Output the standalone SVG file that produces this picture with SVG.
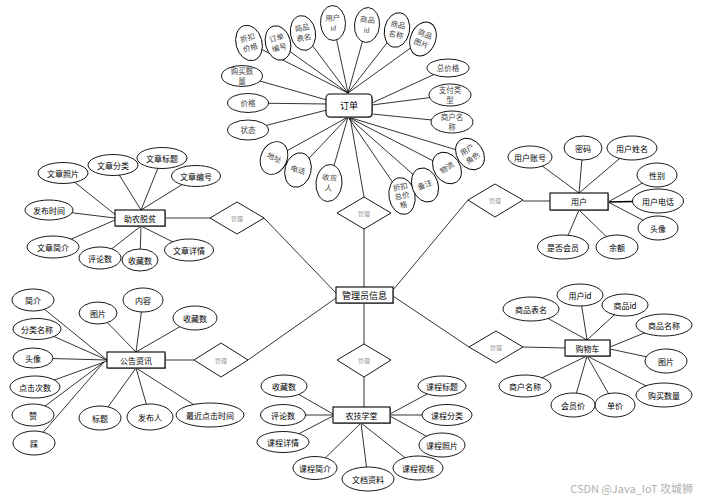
<svg xmlns="http://www.w3.org/2000/svg" width="705" height="501" viewBox="0 0 705 501">
<style>
.e{fill:#fff;stroke:#000;stroke-width:0.9}
.b{fill:#fff;stroke:#000;stroke-width:1.1}
.s{fill:#9a9a9a}
.d{fill:#fff;stroke:#000;stroke-width:0.9}
.c line{stroke:#000;stroke-width:0.8}
text{font-family:"Noto Sans CJK SC","Noto Sans",sans-serif;text-anchor:middle;dominant-baseline:central}
.t{font-size:8px;fill:#000}
.g{font-family:"Liberation Serif","Noto Sans CJK SC",serif;font-size:7.5px;fill:#444}
.bt{font-size:9px;fill:#000}
.dl{font-size:6px;fill:#999}
.w{font-size:11px;fill:#b0b0b0;text-anchor:end}
</style>
<rect width="705" height="501" fill="#fff"/>
<g id="connectors" class="c">
<!-- 订单 top -->
<line x1="348" y1="93" x2="249" y2="43"/>
<line x1="348" y1="93" x2="278" y2="43"/>
<line x1="348" y1="93" x2="303" y2="33"/>
<line x1="348" y1="93" x2="333" y2="23"/>
<line x1="348" y1="93" x2="367" y2="25"/>
<line x1="348" y1="93" x2="397" y2="30"/>
<line x1="348" y1="93" x2="423" y2="39"/>
<line x1="327" y1="100" x2="242" y2="76"/>
<line x1="327" y1="104" x2="248" y2="103"/>
<line x1="327" y1="110" x2="248" y2="130"/>
<line x1="372" y1="103" x2="448" y2="68"/>
<line x1="372" y1="105" x2="450" y2="95"/>
<line x1="372" y1="114" x2="452" y2="122"/>
<line x1="348" y1="117" x2="274" y2="158"/>
<line x1="348" y1="117" x2="298" y2="170"/>
<line x1="348" y1="117" x2="329" y2="183"/>
<line x1="348" y1="117" x2="402" y2="196"/>
<line x1="348" y1="117" x2="425" y2="185"/>
<line x1="348" y1="117" x2="447" y2="168"/>
<line x1="348" y1="117" x2="470" y2="154"/>
<line x1="350" y1="117" x2="364" y2="197"/>
<!-- 助农脱贫 -->
<line x1="117" y1="216" x2="63" y2="173"/>
<line x1="141" y1="210" x2="113" y2="165"/>
<line x1="141" y1="210" x2="162" y2="158"/>
<line x1="141" y1="210" x2="196" y2="176"/>
<line x1="115" y1="218" x2="49" y2="210"/>
<line x1="115" y1="220" x2="53" y2="247"/>
<line x1="141" y1="226" x2="100" y2="258"/>
<line x1="141" y1="226" x2="140" y2="260"/>
<line x1="141" y1="226" x2="189" y2="250"/>
<line x1="166" y1="218" x2="210" y2="218"/>
<line x1="264" y1="218" x2="336" y2="293"/>
<!-- 用户 -->
<line x1="579" y1="193" x2="530" y2="157"/>
<line x1="579" y1="193" x2="583" y2="148"/>
<line x1="579" y1="193" x2="632" y2="148"/>
<line x1="608" y1="202" x2="657" y2="175"/>
<line x1="608" y1="202" x2="658" y2="201" style="stroke-width:1.6"/>
<line x1="608" y1="202" x2="658" y2="228"/>
<line x1="579" y1="210" x2="617" y2="247"/>
<line x1="579" y1="210" x2="563" y2="247"/>
<line x1="523" y1="201" x2="550" y2="201"/>
<line x1="468" y1="200" x2="393" y2="290"/>
<!-- 公告资讯 -->
<line x1="107" y1="360" x2="33" y2="300"/>
<line x1="107" y1="360" x2="37" y2="329"/>
<line x1="107" y1="360" x2="33" y2="358"/>
<line x1="107" y1="361" x2="35" y2="387"/>
<line x1="104" y1="362" x2="33" y2="415"/>
<line x1="104" y1="362" x2="34" y2="443"/>
<line x1="136" y1="352" x2="98" y2="313"/>
<line x1="136" y1="352" x2="143" y2="300"/>
<line x1="136" y1="352" x2="195" y2="318"/>
<line x1="136" y1="368" x2="100" y2="418"/>
<line x1="136" y1="368" x2="150" y2="417"/>
<line x1="136" y1="368" x2="210" y2="415"/>
<line x1="165" y1="360" x2="194" y2="360"/>
<line x1="248" y1="360" x2="336" y2="298"/>
<!-- 管理员信息 vertical -->
<line x1="364" y1="229" x2="364" y2="287"/>
<line x1="364" y1="303" x2="364" y2="344"/>
<line x1="364" y1="377" x2="364" y2="407"/>
<!-- 农技学堂 -->
<line x1="333" y1="414" x2="284" y2="386"/>
<line x1="333" y1="415" x2="283" y2="415"/>
<line x1="333" y1="416" x2="283" y2="442"/>
<line x1="390" y1="414" x2="442" y2="386"/>
<line x1="390" y1="415" x2="447" y2="415"/>
<line x1="390" y1="416" x2="442" y2="445"/>
<line x1="361" y1="423" x2="315" y2="468"/>
<line x1="361" y1="423" x2="368" y2="479"/>
<line x1="361" y1="423" x2="418" y2="468"/>
<!-- 购物车 -->
<line x1="587" y1="340" x2="531" y2="309"/>
<line x1="587" y1="340" x2="580" y2="295"/>
<line x1="587" y1="340" x2="625" y2="305"/>
<line x1="610" y1="347" x2="664" y2="325"/>
<line x1="610" y1="349" x2="666" y2="361"/>
<line x1="587" y1="356" x2="664" y2="395"/>
<line x1="587" y1="356" x2="615" y2="405"/>
<line x1="587" y1="356" x2="573" y2="405"/>
<line x1="587" y1="356" x2="525" y2="386"/>
<line x1="523" y1="347" x2="565" y2="348"/>
<line x1="469" y1="347" x2="393" y2="296"/>
</g>
<!-- central node -->
<g id="admin"><rect class="s" x="337" y="288" width="57" height="16"/><rect class="b" x="336" y="287" width="57" height="16"/><text class="bt" x="364.5" y="295.5">管理员信息</text></g>
<!-- diamonds -->
<g id="rel-zhunong"><polygon class="d" points="210,218 237,202 264,218 237,234"/><text class="dl" x="237" y="218">管理</text></g>
<g id="rel-gonggao"><polygon class="d" points="194,360 221,343 248,360 221,377"/><text class="dl" x="221" y="360">管理</text></g>
<g id="rel-dingdan"><polygon class="d" points="337,213 364,197 391,213 364,229"/><text class="dl" x="364" y="213">管理</text></g>
<g id="rel-nongji"><polygon class="d" points="337,360 364,344 391,360 364,377"/><text class="dl" x="364" y="360">管理</text></g>
<g id="rel-yonghu"><polygon class="d" points="468,200 495,184 523,200 495,217"/><text class="dl" x="495" y="200">管理</text></g>
<g id="rel-gouwuche"><polygon class="d" points="469,347 496,331 523,347 496,363"/><text class="dl" x="496" y="347">管理</text></g>
<!-- 订单 -->
<g id="dingdan"><rect class="s" x="327" y="95" width="46" height="23" rx="4"/><rect class="b" x="326" y="94" width="46" height="23" rx="4"/><text class="bt" x="349" y="105.5">订单</text></g>
<g id="dd-zhekoujiage" transform="translate(249,43) rotate(-15)"><ellipse class="e" rx="13" ry="18"/><text class="g" y="-5">折扣</text><text class="g" y="5">价格</text></g>
<g id="dd-dingdanbianhao" transform="translate(278,43) rotate(-15)"><ellipse class="e" rx="12.5" ry="17.5"/><text class="g" y="-5">订单</text><text class="g" y="5">编号</text></g>
<g id="dd-shangpinbiaoming" transform="translate(303,33) rotate(-10)"><ellipse class="e" rx="12.5" ry="17.5"/><text class="g" y="-5">商品</text><text class="g" y="5">表名</text></g>
<g id="dd-yonghuid" transform="translate(333,23) rotate(-3)"><ellipse class="e" rx="12.5" ry="17.5"/><text class="g" y="-5">用户</text><text class="g" y="5">id</text></g>
<g id="dd-shangpinid" transform="translate(367,25) rotate(5)"><ellipse class="e" rx="12.5" ry="17.5"/><text class="g" y="-5">商品</text><text class="g" y="5">id</text></g>
<g id="dd-shangpinmingcheng" transform="translate(397,30) rotate(12)"><ellipse class="e" rx="12.5" ry="17.5"/><text class="g" y="-5">商品</text><text class="g" y="5">名称</text></g>
<g id="dd-shangpintupian" transform="translate(423,39) rotate(22)"><ellipse class="e" rx="12.5" ry="17.5"/><text class="g" y="-5">商品</text><text class="g" y="5">图片</text></g>
<g id="dd-goumaishuliang"><ellipse class="e" cx="242" cy="76" rx="20.5" ry="10.5"/><text class="g" x="242" y="71">购买数</text><text class="g" x="242" y="81">量</text></g>
<g id="dd-jiage"><ellipse class="e" cx="248" cy="103" rx="20.5" ry="9.5"/><text class="g" x="248" y="103">价格</text></g>
<g id="dd-zhuangtai"><ellipse class="e" cx="248" cy="130" rx="20.5" ry="10"/><text class="g" x="248" y="130">状态</text></g>
<g id="dd-zongjiage"><ellipse class="e" cx="448" cy="68" rx="21" ry="9"/><text class="g" x="448" y="68">总价格</text></g>
<g id="dd-zhifuleixing"><ellipse class="e" cx="450" cy="95" rx="21" ry="11"/><text class="g" x="450" y="90">支付类</text><text class="g" x="450" y="100">型</text></g>
<g id="dd-shanghumingcheng"><ellipse class="e" cx="452" cy="122" rx="21" ry="11"/><text class="g" x="452" y="117">商户名</text><text class="g" x="452" y="127">称</text></g>
<g id="dd-dizhi" transform="translate(274,158) rotate(25)"><ellipse class="e" rx="13" ry="17"/><text class="g">地址</text></g>
<g id="dd-dianhua" transform="translate(298,170) rotate(15)"><ellipse class="e" rx="13" ry="17.5"/><text class="g">电话</text></g>
<g id="dd-shouhuoren" transform="translate(329,183) rotate(5)"><ellipse class="e" rx="13" ry="18.5"/><text class="g" y="-5">收货</text><text class="g" y="5">人</text></g>
<g id="dd-zhekouzongjiage" transform="translate(402,196) rotate(-10)"><ellipse class="e" rx="13" ry="18.5"/><text class="g" y="-9">折扣</text><text class="g" y="0">总价</text><text class="g" y="9">格</text></g>
<g id="dd-beizhu" transform="translate(425,185) rotate(-20)"><ellipse class="e" rx="13" ry="17.5"/><text class="g">备注</text></g>
<g id="dd-wuliu" transform="translate(447,168) rotate(-35)"><ellipse class="e" rx="13" ry="17"/><text class="g">物流</text></g>
<g id="dd-yonghujuese" transform="translate(470,154) rotate(-35)"><ellipse class="e" rx="13" ry="17"/><text class="g" y="-5">用户</text><text class="g" y="5">角色</text></g>
<!-- 助农脱贫 -->
<g id="zhunong"><rect class="s" x="116" y="211" width="50" height="16"/><rect class="b" x="115" y="210" width="50" height="16"/><text class="t" x="140" y="218">助农脱贫</text></g>
<g id="zn-zhaopian"><ellipse class="e" cx="63" cy="173" rx="25" ry="10.5"/><text class="t" x="63" y="173">文章照片</text></g>
<g id="zn-fenlei"><ellipse class="e" cx="113" cy="165" rx="25" ry="10.5"/><text class="t" x="113" y="165">文章分类</text></g>
<g id="zn-biaoti"><ellipse class="e" cx="162" cy="158" rx="25" ry="10.5"/><text class="t" x="162" y="158">文章标题</text></g>
<g id="zn-bianhao"><ellipse class="e" cx="196" cy="176" rx="24.5" ry="10.5"/><text class="t" x="196" y="176">文章编号</text></g>
<g id="zn-fabushijian"><ellipse class="e" cx="49" cy="210" rx="24" ry="10"/><text class="t" x="49" y="210">发布时间</text></g>
<g id="zn-jianjie"><ellipse class="e" cx="53" cy="247" rx="26" ry="11"/><text class="t" x="53" y="247">文章简介</text></g>
<g id="zn-pinglunshu"><ellipse class="e" cx="100" cy="258" rx="21" ry="11"/><text class="t" x="100" y="258">评论数</text></g>
<g id="zn-shoucangshu"><ellipse class="e" cx="140" cy="260" rx="18" ry="11"/><text class="t" x="140" y="260">收藏数</text></g>
<g id="zn-xiangqing"><ellipse class="e" cx="189" cy="250" rx="24.5" ry="11"/><text class="t" x="189" y="250">文章详情</text></g>
<!-- 用户 -->
<g id="yonghu"><rect class="s" x="551" y="194" width="58" height="17"/><rect class="b" x="550" y="193" width="58" height="17"/><text class="t" x="579" y="201.5">用户</text></g>
<g id="yh-zhanghao"><ellipse class="e" cx="530" cy="157" rx="22" ry="11"/><text class="t" x="530" y="157">用户账号</text></g>
<g id="yh-mima"><ellipse class="e" cx="583" cy="148" rx="19" ry="12"/><text class="t" x="583" y="148">密码</text></g>
<g id="yh-xingming"><ellipse class="e" cx="632" cy="148" rx="25" ry="12"/><text class="t" x="632" y="148">用户姓名</text></g>
<g id="yh-xingbie"><ellipse class="e" cx="657" cy="175" rx="20" ry="12"/><text class="t" x="657" y="175">性别</text></g>
<g id="yh-dianhua"><ellipse class="e" cx="658" cy="201" rx="25.5" ry="12"/><text class="t" x="658" y="201">用户电话</text></g>
<g id="yh-touxiang"><ellipse class="e" cx="658" cy="228" rx="20" ry="12"/><text class="t" x="658" y="228">头像</text></g>
<g id="yh-yue"><ellipse class="e" cx="617" cy="247" rx="21" ry="12"/><text class="t" x="617" y="247">余额</text></g>
<g id="yh-shifouhuiyuan"><ellipse class="e" cx="563" cy="247" rx="25.5" ry="12"/><text class="t" x="563" y="247">是否会员</text></g>
<!-- 公告资讯 -->
<g id="gonggao"><rect class="s" x="108" y="353" width="58" height="16"/><rect class="b" x="107" y="352" width="58" height="16"/><text class="t" x="136" y="360">公告资讯</text></g>
<g id="gg-jianjie"><ellipse class="e" cx="33" cy="300" rx="21" ry="11"/><text class="t" x="33" y="300">简介</text></g>
<g id="gg-fenleimingcheng"><ellipse class="e" cx="37" cy="329" rx="24" ry="10.5"/><text class="t" x="37" y="329">分类名称</text></g>
<g id="gg-touxiang"><ellipse class="e" cx="33" cy="358" rx="20" ry="10"/><text class="t" x="33" y="358">头像</text></g>
<g id="gg-dianjicishu"><ellipse class="e" cx="35" cy="387" rx="25" ry="11"/><text class="t" x="35" y="387">点击次数</text></g>
<g id="gg-zan"><ellipse class="e" cx="33" cy="415" rx="21" ry="11"/><text class="t" x="33" y="415">赞</text></g>
<g id="gg-cai"><ellipse class="e" cx="34" cy="443" rx="21" ry="12"/><text class="t" x="34" y="443">踩</text></g>
<g id="gg-tupian"><ellipse class="e" cx="98" cy="313" rx="19" ry="11"/><text class="t" x="98" y="313">图片</text></g>
<g id="gg-neirong"><ellipse class="e" cx="143" cy="300" rx="20" ry="12"/><text class="t" x="143" y="300">内容</text></g>
<g id="gg-shoucangshu"><ellipse class="e" cx="195" cy="318" rx="22" ry="12"/><text class="t" x="195" y="318">收藏数</text></g>
<g id="gg-biaoti"><ellipse class="e" cx="100" cy="418" rx="21" ry="12"/><text class="t" x="100" y="418">标题</text></g>
<g id="gg-faburen"><ellipse class="e" cx="150" cy="417" rx="23" ry="13"/><text class="t" x="150" y="417">发布人</text></g>
<g id="gg-zuijindianji"><ellipse class="e" cx="210" cy="415" rx="34" ry="12"/><text class="t" x="210" y="415">最近点击时间</text></g>
<!-- 农技学堂 -->
<g id="nongji"><rect class="s" x="334" y="408" width="57" height="16"/><rect class="b" x="333" y="407" width="57" height="16"/><text class="t" x="361.5" y="415">农技学堂</text></g>
<g id="nj-shoucangshu"><ellipse class="e" cx="284" cy="386" rx="23" ry="11"/><text class="t" x="284" y="386">收藏数</text></g>
<g id="nj-pinglunshu"><ellipse class="e" cx="283" cy="415" rx="22.5" ry="10.5"/><text class="t" x="283" y="415">评论数</text></g>
<g id="nj-xiangqing"><ellipse class="e" cx="283" cy="442" rx="26" ry="10.5"/><text class="t" x="283" y="442">课程详情</text></g>
<g id="nj-jianjie"><ellipse class="e" cx="315" cy="468" rx="22" ry="11.5"/><text class="t" x="315" y="468">课程简介</text></g>
<g id="nj-wendangziliao"><ellipse class="e" cx="368" cy="479" rx="26" ry="12"/><text class="t" x="368" y="479">文档资料</text></g>
<g id="nj-shipin"><ellipse class="e" cx="418" cy="468" rx="25" ry="12"/><text class="t" x="418" y="468">课程视频</text></g>
<g id="nj-zhaopian"><ellipse class="e" cx="442" cy="445" rx="23" ry="12"/><text class="t" x="442" y="445">课程照片</text></g>
<g id="nj-fenlei"><ellipse class="e" cx="447" cy="415" rx="25" ry="10.5"/><text class="t" x="447" y="415">课程分类</text></g>
<g id="nj-biaoti"><ellipse class="e" cx="442" cy="386" rx="24" ry="10"/><text class="t" x="442" y="386">课程标题</text></g>
<!-- 购物车 -->
<g id="gouwuche"><rect class="s" x="566" y="341" width="45" height="16"/><rect class="b" x="565" y="340" width="45" height="16"/><text class="t" x="587.5" y="348">购物车</text></g>
<g id="gw-shangpinbiaoming"><ellipse class="e" cx="531" cy="309" rx="28" ry="12"/><text class="t" x="531" y="309">商品表名</text></g>
<g id="gw-yonghuid"><ellipse class="e" cx="580" cy="295" rx="23" ry="11"/><text class="t" x="580" y="295">用户id</text></g>
<g id="gw-shangpinid"><ellipse class="e" cx="625" cy="305" rx="23" ry="11"/><text class="t" x="625" y="305">商品id</text></g>
<g id="gw-shangpinmingcheng"><ellipse class="e" cx="664" cy="325" rx="28" ry="11"/><text class="t" x="664" y="325">商品名称</text></g>
<g id="gw-tupian"><ellipse class="e" cx="666" cy="361" rx="21" ry="12"/><text class="t" x="666" y="361">图片</text></g>
<g id="gw-goumaishuliang"><ellipse class="e" cx="664" cy="395" rx="28" ry="12"/><text class="t" x="664" y="395">购买数量</text></g>
<g id="gw-danjia"><ellipse class="e" cx="615" cy="405" rx="20" ry="12"/><text class="t" x="615" y="405">单价</text></g>
<g id="gw-huiyuanjia"><ellipse class="e" cx="573" cy="405" rx="22" ry="12"/><text class="t" x="573" y="405">会员价</text></g>
<g id="gw-shanghumingcheng"><ellipse class="e" cx="525" cy="386" rx="26" ry="11"/><text class="t" x="525" y="386">商户名称</text></g>
<text class="w" x="693" y="488">CSDN @Java_IoT 攻城狮</text>
</svg>
